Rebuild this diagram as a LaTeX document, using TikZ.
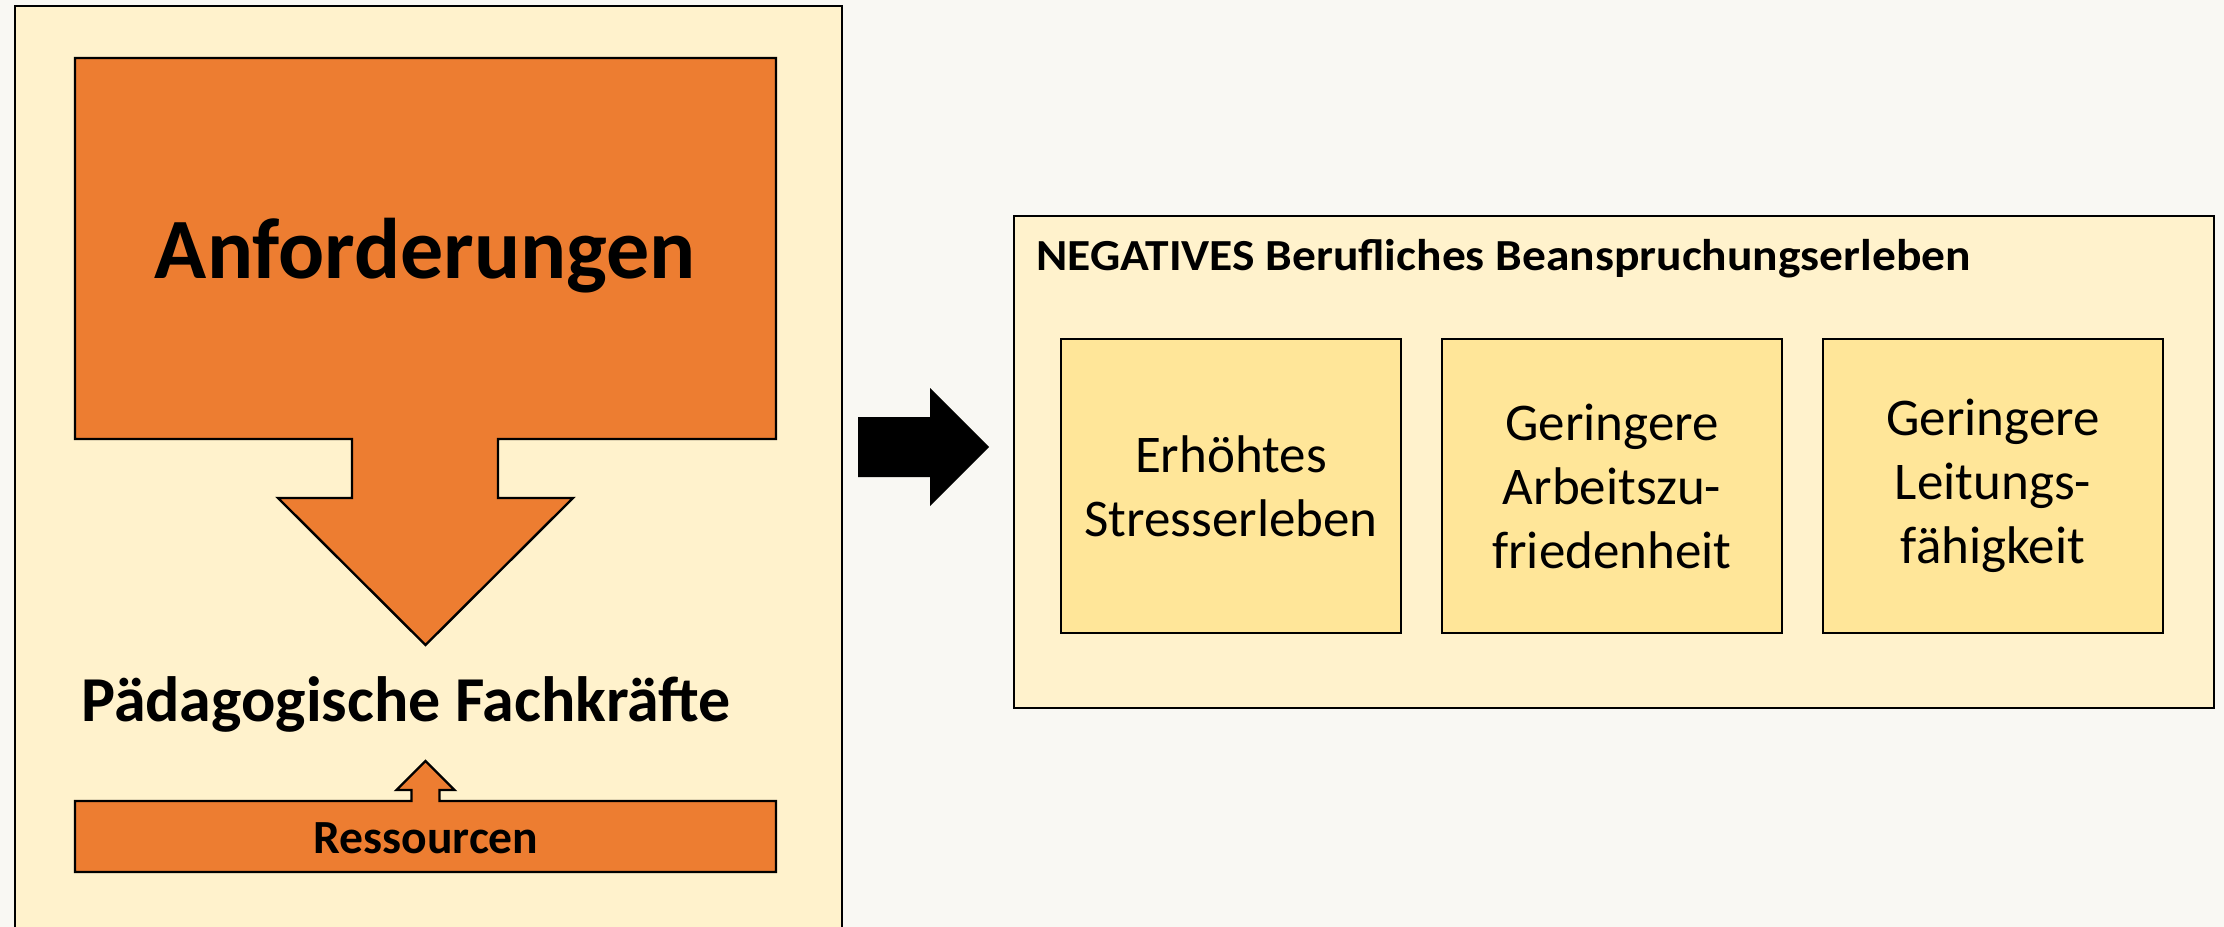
\documentclass[tikz,border=0pt]{standalone}
\usepackage{fontspec}
\setmainfont{Carlito}
\newfontfamily\breitfont[FakeStretch=1.07]{Carlito}
\usetikzlibrary{positioning}

\definecolor{hintergrund}{HTML}{F9F8F3}
\definecolor{panelgelb}{HTML}{FFF2CC}
\definecolor{kastengelb}{HTML}{FFE699}
\definecolor{akzent}{HTML}{ED7D31}

\begin{document}
\begin{tikzpicture}[
    x=0.5pt, y=-0.5pt,
    node distance=20.5pt,
    panel/.style={draw, line width=1.2pt, fill=panelgelb},
    outcome/.style={rectangle, draw, line width=1.2pt, fill=kastengelb, minimum width=170pt, minimum height=147pt, align=center, inner sep=0pt, outer sep=0pt, font=\fontsize{26.5}{32}\selectfont},
    blockarrow/.style={draw, line width=1.2pt, fill=akzent},
    heading/.style={inner sep=0pt, font=\breitfont\bfseries\fontsize{22.2}{26}\selectfont}
]

% Background
\useasboundingbox[fill=hintergrund] (0,0) rectangle (2224,927);
\clip (0,0) rectangle (2224,927);

% Left panel
\draw[panel] (15,6) rectangle (842,960);

\draw[blockarrow] (75,58) -- (776,58) -- (776,439) -- (498,439) -- (498,498) -- (573,498)
    -- (425.5,645) -- (278,498) -- (352,498) -- (352,439) -- (75,439) -- cycle;
\node[anchor=base, inner sep=0pt, font=\bfseries\fontsize{43}{50}\selectfont] (Anforderungen) at (425.5,278) {Anforderungen};

\node[anchor=base, inner sep=0pt, font=\bfseries\fontsize{32}{38}\selectfont] (Fachkraefte) at (406,721) {Pädagogische Fachkräfte};

\draw[blockarrow] (75,801) -- (411.5,801) -- (411.5,790) -- (396.5,790) -- (425.5,761) -- (454.5,790)
    -- (439.5,790) -- (439.5,801) -- (776,801) -- (776,872) -- (75,872) -- cycle;
\node[anchor=base, inner sep=0pt, font=\bfseries\fontsize{23.8}{28}\selectfont] (Ressourcen) at (426,853) {Ressourcen};

% Arrow between panels
\fill (858,417) -- (930,417) -- (930,388) -- (989,447) -- (930,506) -- (930,477) -- (858,477) -- cycle;

% Right panel
\node[panel, rectangle, minimum width=600pt, minimum height=246pt, inner sep=0pt, outer sep=0pt] (Beanspruchung) at (1614,462) {};
\node[heading, anchor=base west] (Titel) at ([xshift=11pt, yshift=-27pt]Beanspruchung.north west) {NEGATIVES Berufliches Beanspruchungserleben};

\node[outcome] (Stress) at (1231,486) {Erhöhtes\\Stresserleben};
\node[outcome, right=of Stress] (Zufriedenheit) {Geringere\\Arbeitszu-\\friedenheit};
\node[outcome, right=of Zufriedenheit] (Leitung) {Geringere\\Leitungs-\\fähigkeit};

\end{tikzpicture}
\end{document}
